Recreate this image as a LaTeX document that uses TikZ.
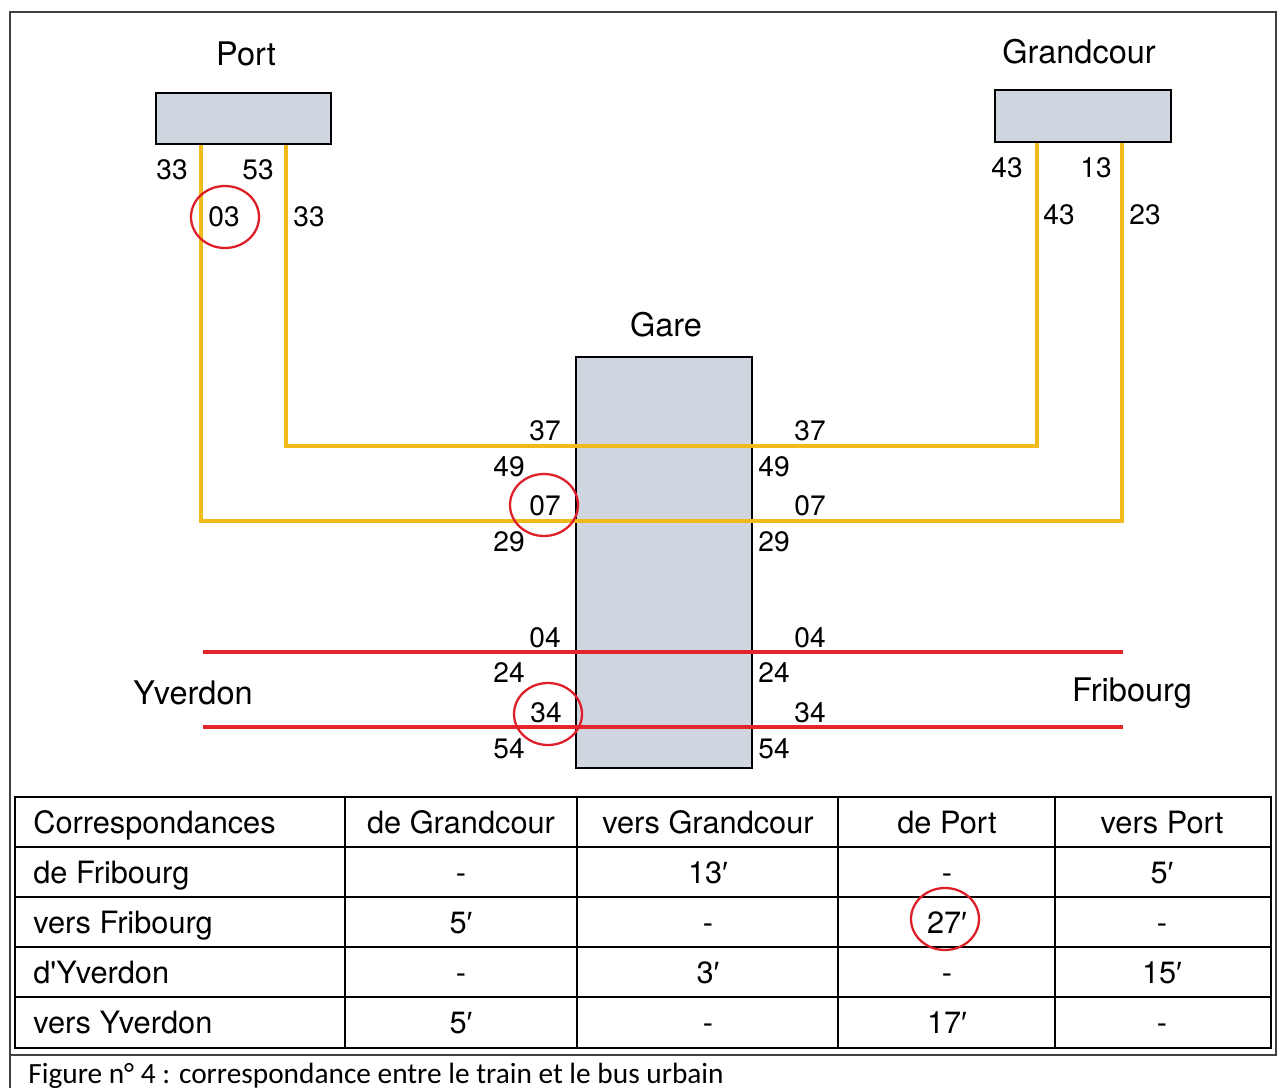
\documentclass[tikz,border=0pt]{standalone}
\usepackage{fontspec}
\setmainfont{TeX Gyre Heros}
\newfontfamily\capfont{Carlito}
\newfontfamily\primefont{Liberation Sans}
\usetikzlibrary{shapes.geometric}
\pgfdeclarelayer{background}
\pgfsetlayers{background,main}
\definecolor{busyellow}{RGB}{240,186,28}
\definecolor{trainred}{RGB}{228,38,44}
\definecolor{ringred}{RGB}{222,30,40}
\definecolor{stopgray}{RGB}{208,214,224}
\newcommand\placesize{\fontsize{18.5}{22}\selectfont}
\newcommand\minsize{\fontsize{16}{19}\selectfont}
\newcommand\tabsize{\fontsize{17.5}{21}\selectfont}
\newcommand\mprime{{\primefont ′}}
\tikzset{
  stopbox/.style={draw=black, line width=1.1pt, fill=stopgray, inner sep=0pt},
  placelabel/.style={font=\placesize, anchor=base, inner sep=0pt},
  minute/.style={font=\minsize, anchor=base, inner sep=0pt},
  busline/.style={line width=2.4pt, draw=busyellow},
  trainline/.style={line width=2.4pt, draw=trainred},
  circled/.style={ellipse, draw=ringred, line width=1.3pt, minimum width=1.36cm, minimum height=1.24cm},
  cell/.style={font=\tabsize, anchor=base, inner sep=0pt},
}

\begin{document}
\begin{tikzpicture}[x=0.02cm, y=-0.02cm]
\useasboundingbox (0,0) rectangle (1279,1088);

%outer frame
\draw [line width=0.8pt, draw=black!75] (10,1088) -- (10,12) -- (1276,12) -- (1276,1055) -- (10,1055);

%stops
\node [stopbox, minimum width=3.5cm, minimum height=1.02cm] (port) at (243.5,118.5) {};
\node [stopbox, minimum width=3.52cm, minimum height=1.04cm] (grandcour) at (1083,116) {};
\node [stopbox, minimum width=3.52cm, minimum height=8.22cm] (gare) at (664,562.5) {};

\node [placelabel] (portname) at (246,66) {Port};
\node [placelabel] (grandcourname) at (1079,64) {Grandcour};
\node [placelabel] (garename) at (666,337) {Gare};
\node [placelabel] (yverdon) at (193,704) {Yverdon};
\node [placelabel] (fribourg) at (1132,701) {Fribourg};

%bends of the bus lines
\coordinate (pa) at (201,521);
\coordinate (ga) at (1122,521);
\coordinate (pb) at (286,446);
\coordinate (gb) at (1037,446);

%bus lines Port - Gare - Grandcour
\draw [busline] (port.south -| pa) -- (pa) -- (ga) -- (grandcour.south -| ga);
\draw [busline] (port.south -| pb) -- (pb) -- (gb) -- (grandcour.south -| gb);

%train lines Yverdon - Fribourg
\coordinate (ya) at (203,652);
\coordinate (fa) at (1123,652);
\coordinate (yb) at (203,727);
\coordinate (fb) at (1123,727);
\draw [trainline] (ya) -- (fa);
\draw [trainline] (yb) -- (fb);

%times at Port
\node [minute] (p33) at (172,179) {33};
\node [minute] (p53) at (258,179) {53};
\node [minute] (p03) at (224,227) {03};
\node [minute] (p33b) at (309,227) {33};
\node [circled] (ring03) at (225,217) {};

%times at Grandcour
\node [minute] (g43) at (1007,177) {43};
\node [minute] (g13) at (1096,177) {13};
\node [minute] (g43b) at (1059,224) {43};
\node [minute] (g23) at (1145,224) {23};

%times at Gare, left side
\node [minute] (l37) at (545,440) {37};
\node [minute] (l49) at (509,476) {49};
\node [minute] (l07) at (545,515) {07};
\node [minute] (l29) at (509,551) {29};
\node [minute] (l04) at (545,647) {04};
\node [minute] (l24) at (509,682) {24};
\node [minute] (l34) at (546,722) {34};
\node [minute] (l54) at (509,758) {54};
\node [circled] (ring07) at (544,505) {};
\node [circled] (ring34) at (548,714) {};

%times at Gare, right side
\node [minute] (r37) at (810,440) {37};
\node [minute] (r49) at (774,476) {49};
\node [minute] (r07) at (810,515) {07};
\node [minute] (r29) at (774,551) {29};
\node [minute] (r04) at (810,647) {04};
\node [minute] (r24) at (774,682) {24};
\node [minute] (r34) at (810,722) {34};
\node [minute] (r54) at (774,758) {54};

%table of connections
\draw [line width=1.6pt] (15,797) rectangle (1271,1048);
\foreach \ty in {847,897,947,997}
  \draw [line width=1.1pt] (15,\ty) -- (1271,\ty);
\foreach \tx in {345,577,838,1055}
  \draw [line width=1.1pt] (\tx,797) -- (\tx,1048);

\node [cell, anchor=base west] (head) at (33,833) {Correspondances};
\node [cell] (hgc) at (461,833) {de Grandcour};
\node [cell] (hvgc) at (708,833) {vers Grandcour};
\node [cell] (hp) at (947,833) {de Port};
\node [cell] (hvp) at (1162,833) {vers Port};

\foreach \rname/\ca/\cb/\cc/\cd [count=\i] in {de Fribourg/-/13\mprime/-/5\mprime, vers Fribourg/5\mprime/-/27\mprime/-, d\textquotesingle Yverdon/-/3\mprime/-/15\mprime, vers Yverdon/5\mprime/-/17\mprime/-}{
  \node [cell, anchor=base west] (row\i) at (33,{833+50*\i}) {\rname};
  \node [cell] (a\i) at (461,{833+50*\i}) {\ca};
  \node [cell] (b\i) at (708,{833+50*\i}) {\cb};
  \node [cell] (c\i) at (947,{833+50*\i}) {\cc};
  \node [cell] (d\i) at (1162,{833+50*\i}) {\cd};
}
\node [circled] (ring27) at (945,919) {};

%caption
\node [anchor=base west, inner sep=0pt, font=\capfont\fontsize{16.7}{20}\selectfont] (caption) at (28,1083) {Figure n° 4 : correspondance entre le train et le bus urbain};

\end{tikzpicture}
\end{document}
